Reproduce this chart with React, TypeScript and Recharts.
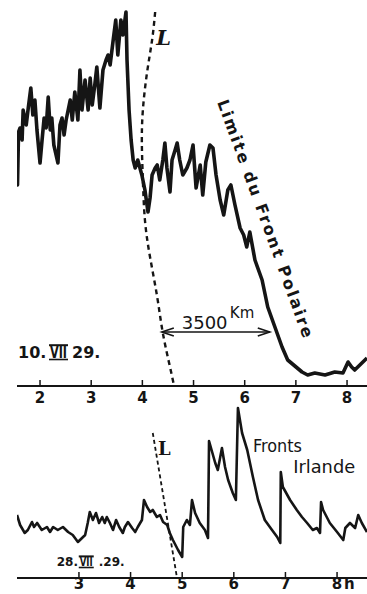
import React from "react";
import {
  LineChart,
  Line,
  XAxis,
  YAxis,
  ReferenceDot,
  ReferenceLine,
} from "recharts";

const ink = "#151515";

// 10.VII.29 : heure (h) et hauteur relative du tracé
const topHours = [
  1.55, 1.56, 1.58, 1.61, 1.65, 1.67, 1.73, 1.77, 1.82, 1.86,
  1.9, 1.94, 2.0, 2.04, 2.08, 2.12, 2.16, 2.2, 2.23, 2.27,
  2.35, 2.39, 2.43, 2.47, 2.51, 2.55, 2.59, 2.63, 2.68, 2.74,
  2.78, 2.82, 2.88, 2.94, 2.98, 3.02, 3.07, 3.11, 3.17, 3.23,
  3.29, 3.33, 3.37, 3.43, 3.48, 3.52, 3.58, 3.62, 3.68, 3.7,
  3.74, 3.78, 3.82, 3.86, 3.91, 3.99, 4.05, 4.11, 4.15, 4.19,
  4.25, 4.29, 4.34, 4.4, 4.44, 4.48, 4.54, 4.58, 4.64, 4.68,
  4.73, 4.79, 4.87, 4.93, 4.99, 5.05, 5.13, 5.18, 5.24, 5.32,
  5.38, 5.44, 5.52, 5.59, 5.67, 5.73, 5.81, 5.91, 5.98, 6.04,
  6.1, 6.2, 6.34, 6.45, 6.59, 6.73, 6.84, 6.98, 7.12, 7.23,
  7.37, 7.57, 7.76, 7.92, 8.02, 8.09, 8.15, 8.25, 8.35, 8.39,
];
const topLevel = [
  246, 201, 254, 258, 246, 276, 261, 278, 298, 271,
  286, 256, 223, 246, 268, 258, 289, 256, 268, 241,
  223, 261, 268, 251, 266, 276, 286, 266, 294, 266,
  316, 276, 306, 276, 308, 281, 301, 319, 278, 316,
  326, 331, 321, 346, 366, 331, 366, 351, 374, 326,
  276, 246, 226, 218, 226, 211, 196, 174, 188, 211,
  218, 221, 206, 226, 243, 218, 194, 226, 236, 243,
  226, 211, 218, 226, 241, 198, 221, 191, 224, 241,
  238, 211, 186, 171, 196, 201, 181, 158, 151, 139,
  154, 126, 106, 79, 59, 39, 26, 20, 14, 11,
  13, 11, 14, 13, 24, 19, 16, 21, 26, 28,
];

// limite L (10.VII)
const lTopHours = [4.25, 4.19, 4.09, 4.01, 3.99, 4.01, 4.05, 4.15, 4.29, 4.4, 4.54, 4.62];
const lTopLevel = [374, 346, 313, 276, 243, 206, 166, 129, 89, 53, 19, 0];

// 28.VII.29
const botHours = [
  1.8, 1.86, 1.95, 2.01, 2.09, 2.13, 2.19, 2.28, 2.38, 2.44,
  2.5, 2.59, 2.69, 2.79, 2.88, 2.98, 3.06, 3.12, 3.17, 3.21,
  3.27, 3.33, 3.39, 3.45, 3.5, 3.54, 3.6, 3.66, 3.72, 3.78,
  3.85, 3.89, 3.95, 4.03, 4.09, 4.14, 4.22, 4.26, 4.32, 4.38,
  4.43, 4.51, 4.57, 4.63, 4.71, 4.76, 4.82, 4.92, 5.0, 5.02,
  5.09, 5.15, 5.19, 5.25, 5.34, 5.44, 5.5, 5.52, 5.64, 5.69,
  5.77, 5.83, 5.89, 5.98, 6.04, 6.08, 6.16, 6.26, 6.37, 6.47,
  6.6, 6.74, 6.84, 6.9, 6.91, 6.95, 7.09, 7.22, 7.32, 7.42,
  7.53, 7.61, 7.67, 7.69, 7.73, 7.86, 8.0, 8.12, 8.16, 8.25,
  8.35, 8.41, 8.48, 8.58,
];
const botLevel = [
  63, 53, 45, 48, 56, 51, 55, 48, 51, 46,
  51, 48, 51, 46, 43, 36, 40, 43, 55, 66,
  58, 65, 55, 61, 55, 61, 55, 48, 58, 51,
  45, 51, 56, 50, 46, 51, 58, 78, 71, 66,
  68, 61, 63, 56, 53, 45, 38, 28, 21, 51,
  58, 53, 78, 65, 55, 48, 40, 137, 115, 108,
  130, 111, 98, 85, 78, 170, 145, 128, 101, 78,
  58, 48, 41, 35, 106, 91, 78, 68, 61, 55,
  48, 50, 45, 76, 68, 55, 46, 38, 50, 55,
  50, 63, 55, 46,
];

const lBotHours = [4.43, 4.9];
const lBotLevel = [145, 0];

const hourTicks = [2, 3, 4, 5, 6, 7, 8];
const botTicks = [3, 4, 5, 6, 7, 8];

const zip = (hs: number[], vs: number[]) => hs.map((h, i) => ({ h, v: vs[i] }));

const topData = zip(topHours, topLevel);
const lTopData = zip(lTopHours, lTopLevel);
const botData = zip(botHours, botLevel);
const lBotData = zip(lBotHours, lBotLevel);

const tickText = {
  fontFamily: "DejaVu Sans",
  fontWeight: 700,
  fontSize: 15,
  fill: ink,
};

function HourTick(props: any) {
  const { x, y, payload, withUnit } = props;
  return (
    <g>
      <text x={x} y={y} dy="0.71em" textAnchor="middle" {...tickText}>
        {payload.value}
      </text>
      {withUnit && payload.value === 8 && (
        <text x={x + 7} y={y} dy="0.71em" textAnchor="start" {...tickText}>
          h
        </text>
      )}
    </g>
  );
}

// texte posé à un point du graphe
function note(content: React.ReactNode, attrs: any = {}, angle = 0) {
  return (p: any) => (
    <text
      x={p.cx}
      y={p.cy}
      fill={ink}
      transform={angle ? `rotate(${angle} ${p.cx} ${p.cy})` : undefined}
      {...attrs}
    >
      {content}
    </text>
  );
}

// date du type « 10.VII 29. » : chiffres romains encadrés de deux barres
function dateNote(day: string, month: string, year: string, size: number, gaps: number[]) {
  return (p: any) => {
    const font = { fontFamily: "DejaVu Sans", fontWeight: 700, fontSize: size, fill: ink };
    const [a, b, c] = gaps;
    const mx = p.cx + a;
    const top = p.cy - size * 0.8;
    return (
      <g>
        <text x={p.cx} y={p.cy} {...font}>{day}</text>
        <text x={mx} y={p.cy} textLength={b} lengthAdjust="spacingAndGlyphs" {...font}>
          {month}
        </text>
        <line x1={mx - 1} x2={mx + b + 1} y1={top} y2={top} stroke={ink} strokeWidth={2} />
        <line x1={mx - 1} x2={mx + b + 1} y1={p.cy + 1.5} y2={p.cy + 1.5} stroke={ink} strokeWidth={1.6} />
        <text x={mx + b + c} y={p.cy} {...font}>{year}</text>
      </g>
    );
  };
}

function DoubleArrow(p: any) {
  const { x1, y1, x2, y2 } = p;
  return (
    <g stroke={ink} strokeWidth={1.6} fill="none">
      <line x1={x1} y1={y1} x2={x2} y2={y2} />
      <path d={`M${x1 + 12},${y1 - 4} L${x1},${y1} L${x1 + 12},${y1 + 4}`} />
      <path d={`M${x2 - 12},${y2 - 4} L${x2},${y2} L${x2 - 12},${y2 + 4}`} />
    </g>
  );
}

export default function App() {
  return (
    <div
      style={{
        position: "absolute",
        left: 0,
        top: 0,
        width: 367,
        height: 594,
        background: "#fff",
        overflow: "hidden",
      }}
    >
      <div style={{ position: "absolute", left: 0, top: 0 }}>
        <LineChart width={367} height={410} margin={{ top: 0, right: 0, bottom: 0, left: 17 }}>
          <XAxis
            dataKey="h"
            type="number"
            domain={[1.55, 8.39]}
            allowDataOverflow
            ticks={hourTicks}
            interval={0}
            height={24}
            axisLine={{ stroke: ink, strokeWidth: 2 }}
            tickLine={{ stroke: ink, strokeWidth: 1.5 }}
            tickSize={-6}
            tickMargin={12}
            tick={(p: any) => <HourTick {...p} />}
          />
          <YAxis type="number" domain={[0, 386]} hide allowDataOverflow />
          <Line
            data={topData}
            dataKey="v"
            type="linear"
            stroke={ink}
            strokeWidth={3.6}
            strokeLinejoin="round"
            dot={false}
            isAnimationActive={false}
          />
          <Line
            data={lTopData}
            dataKey="v"
            type="natural"
            stroke={ink}
            strokeWidth={2.4}
            strokeDasharray="5 4"
            dot={false}
            isAnimationActive={false}
          />
          <ReferenceLine
            segment={[
              { x: 4.38, y: 54 },
              { x: 6.49, y: 54 },
            ]}
            shape={DoubleArrow}
            ifOverflow="visible"
          />
          <ReferenceDot
            x={4.27}
            y={341}
            ifOverflow="visible"
            shape={note("L", {
              fontFamily: "DejaVu Serif",
              fontStyle: "italic",
              fontWeight: 700,
              fontSize: 21,
            })}
          />
          <ReferenceDot
            x={5.56}
            y={286}
            ifOverflow="visible"
            shape={note(
              "Limite du Front Polaire",
              {
                fontFamily: "DejaVu Sans",
                fontWeight: 700,
                fontSize: 16,
                dominantBaseline: "central",
                textLength: 252,
                lengthAdjust: "spacing",
              },
              70
            )}
          />
          <ReferenceDot
            x={4.77}
            y={57}
            ifOverflow="visible"
            shape={note("3500", { fontFamily: "DejaVu Sans", fontSize: 18 })}
          />
          <ReferenceDot
            x={5.71}
            y={68}
            ifOverflow="visible"
            shape={note("Km", { fontFamily: "DejaVu Sans", fontSize: 15 })}
          />
          <ReferenceDot
            x={1.57}
            y={28}
            ifOverflow="visible"
            shape={dateNote("10.", "VII", "29.", 16, [32, 17, 5])}
          />
        </LineChart>
      </div>

      <div style={{ position: "absolute", left: 0, top: 400 }}>
        <LineChart width={367} height={194} margin={{ top: 0, right: 0, bottom: 0, left: 17 }}>
          <XAxis
            dataKey="h"
            type="number"
            domain={[1.8, 8.58]}
            allowDataOverflow
            ticks={botTicks}
            interval={0}
            height={16}
            axisLine={{ stroke: ink, strokeWidth: 2 }}
            tickLine={{ stroke: ink, strokeWidth: 1.5 }}
            tickSize={-6}
            tickMargin={6}
            tick={(p: any) => <HourTick {...p} withUnit />}
          />
          <YAxis type="number" domain={[0, 178]} hide allowDataOverflow />
          <Line
            data={botData}
            dataKey="v"
            type="linear"
            stroke={ink}
            strokeWidth={2.6}
            strokeLinejoin="round"
            dot={false}
            isAnimationActive={false}
          />
          <Line
            data={lBotData}
            dataKey="v"
            type="linear"
            stroke={ink}
            strokeWidth={1.8}
            strokeDasharray="4 3"
            dot={false}
            isAnimationActive={false}
          />
          <ReferenceDot
            x={4.53}
            y={123}
            ifOverflow="visible"
            shape={note("L", {
              fontFamily: "DejaVu Serif",
              fontWeight: 700,
              fontSize: 18,
            })}
          />
          <ReferenceDot
            x={6.37}
            y={126}
            ifOverflow="visible"
            shape={note("Fronts", {
              fontFamily: "DejaVu Sans",
              fontSize: 17,
              textLength: 49,
              lengthAdjust: "spacingAndGlyphs",
            })}
          />
          <ReferenceDot
            x={7.15}
            y={105}
            ifOverflow="visible"
            shape={note("Irlande", {
              fontFamily: "DejaVu Sans",
              fontSize: 17,
              textLength: 62,
              lengthAdjust: "spacingAndGlyphs",
            })}
          />
          <ReferenceDot
            x={2.57}
            y={12}
            ifOverflow="visible"
            shape={dateNote("28.", "VII", ".29.", 12, [23, 13, 6])}
          />
        </LineChart>
      </div>
    </div>
  );
}
